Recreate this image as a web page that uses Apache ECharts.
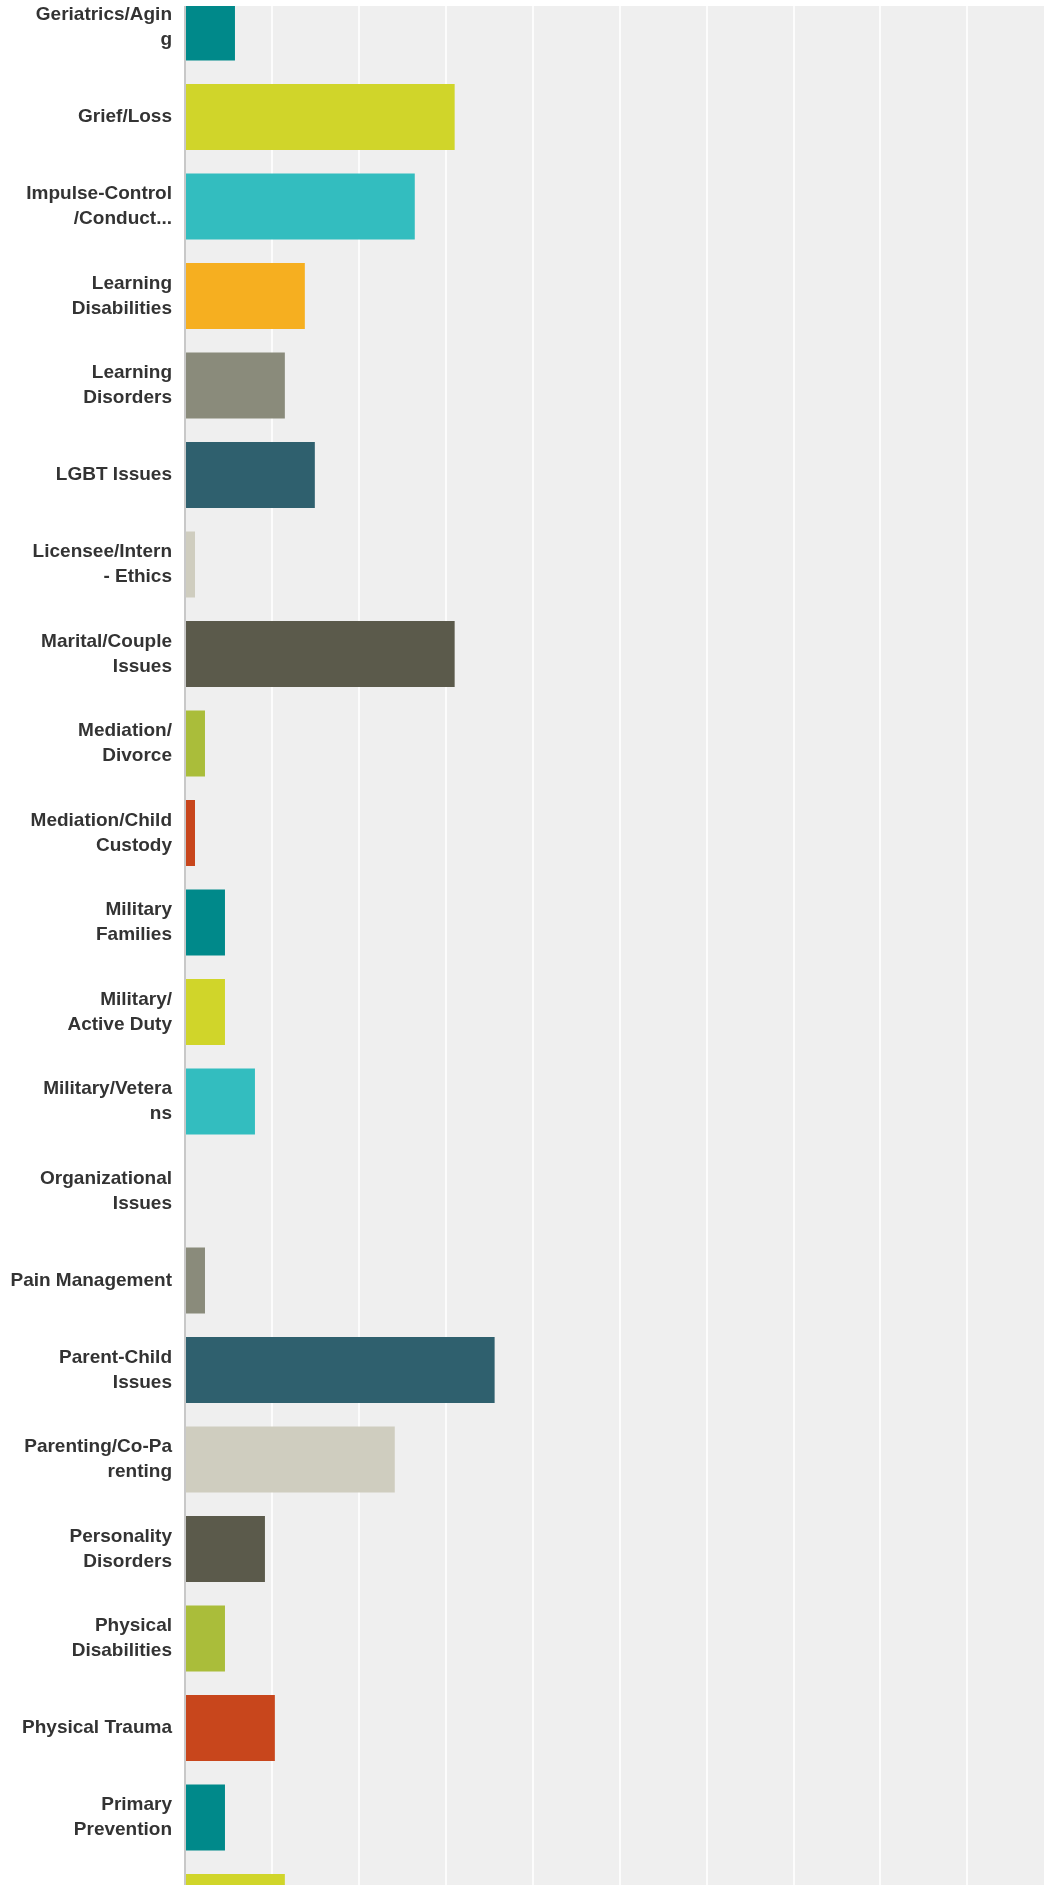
<!DOCTYPE html>
<html>
<head>
<meta charset="utf-8">
<script src="https://cdn.jsdelivr.net/npm/echarts@6/dist/echarts.min.js"></script>
<style>
  html, body { margin: 0; padding: 0; background: #ffffff; }
  #chart { width: 1044px; height: 1885px; }
</style>
</head>
<body>
<div id="chart"></div>
<script>
// Categories (labels wrapped as in the original)
const categories = [
  'Geriatrics/Agin\ng',
  'Grief/Loss',
  'Impulse-Control\n/Conduct...',
  'Learning\nDisabilities',
  'Learning\nDisorders',
  'LGBT Issues',
  'Licensee/Intern\n- Ethics',
  'Marital/Couple\nIssues',
  'Mediation/\nDivorce',
  'Mediation/Child\nCustody',
  'Military\nFamilies',
  'Military/\nActive Duty',
  'Military/Vetera\nns',
  'Organizational\nIssues',
  'Pain Management',
  'Parent-Child\nIssues',
  'Parenting/Co-Pa\nrenting',
  'Personality\nDisorders',
  'Physical\nDisabilities',
  'Physical Trauma',
  'Primary\nPrevention',
  ''
];

// Percent of respondents per category
const values = [
  5.75, 31.03, 26.44, 13.79, 11.49, 14.94, 1.15, 31.03, 2.30, 1.15,
  4.60, 4.60, 8.05, 0.00, 2.30, 35.63, 24.14, 9.20, 4.60, 10.34,
  4.60, 11.49
];

// Value axis range
const axisMin = 0;
const axisMax = 100;
const axisStep = 10;

const palette = [
  '#00898A', '#D0D52A', '#33BDBF', '#F6AF20', '#8A8B7B',
  '#2F606E', '#CFCDBF', '#5B5A4B', '#AABD3A', '#C8461C'
];

const chart = echarts.init(document.getElementById('chart'), null, { renderer: 'canvas' });

const band = 89.5;
chart.setOption({
  animation: false,
  color: palette,
  grid: {
    left: 185,
    top: 27.5 - band / 2,
    width: 869,
    height: band * categories.length,
    show: true,
    backgroundColor: '#efefef',
    borderWidth: 0,
    containLabel: false,
    outerBoundsMode: 'none'
  },
  xAxis: {
    type: 'value',
    min: axisMin,
    max: axisMax,
    interval: axisStep,
    axisLine: { show: false },
    axisTick: { show: false },
    axisLabel: { show: false },
    splitLine: { show: true, lineStyle: { color: '#ffffff', width: 1.6 } }
  },
  yAxis: {
    type: 'category',
    inverse: true,
    data: categories,
    axisLine: { show: true, lineStyle: { color: '#c8c8c8', width: 2 } },
    axisTick: { show: false },
    axisLabel: {
      margin: 13,
      color: '#333333',
      fontFamily: '"Liberation Sans", Arial, sans-serif',
      fontWeight: 'bold',
      fontSize: 19,
      lineHeight: 25,
      align: 'right'
    },
    z: 5
  },
  series: [{
    type: 'bar',
    data: values,
    colorBy: 'data',
    barWidth: 66,
    itemStyle: { borderWidth: 0 }
  }],
  graphic: [{
    type: 'rect',
    shape: { x: 0, y: 0, width: 1044, height: 6 },
    style: { fill: '#ffffff' },
    z: 100
  }]
});
</script>
</body>
</html>
